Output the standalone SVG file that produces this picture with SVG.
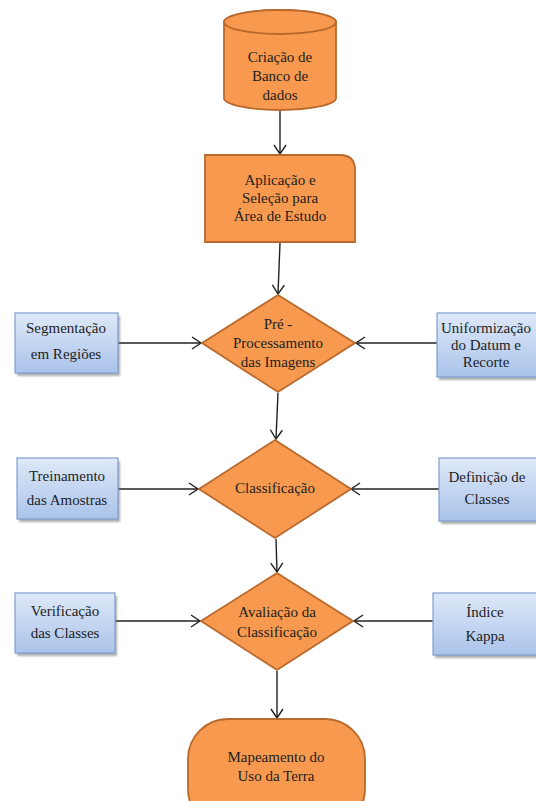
<svg xmlns="http://www.w3.org/2000/svg" width="536" height="801" viewBox="0 0 536 801" font-family="'Liberation Serif', 'Times New Roman', Times, serif">
<defs>
<style>
.o{fill:#f79a4f;stroke:#b9692c;stroke-width:1.8}
.b{fill:url(#bg);stroke:#7f9fcf;stroke-width:1.2}
.sh{fill:#6b6b6b;opacity:.55;filter:url(#bl)}
text{font-family:'Liberation Serif','Times New Roman',Times,serif;font-size:15px;fill:#1e1e1e;text-anchor:middle}
.c{stroke:#222;stroke-width:1.4;fill:none;marker-end:url(#ah)}
</style>
<linearGradient id="bg" x1="0" y1="0" x2="0" y2="1">
<stop offset="0" stop-color="#dfe9f8"/>
<stop offset="1" stop-color="#a9c3ea"/>
</linearGradient>
<filter id="bl" x="-10%" y="-10%" width="120%" height="130%"><feGaussianBlur stdDeviation="1.2"/></filter>
<marker id="ah" markerUnits="userSpaceOnUse" markerWidth="12" markerHeight="14" refX="10" refY="7" orient="auto">
<path d="M1,1 L10,7 L1,13" fill="none" stroke="#222" stroke-width="1.4"/>
</marker>
</defs>
<rect width="536" height="801" fill="#fff"/>
<g id="connectors">
<line class="c" x1="280" y1="111" x2="280" y2="154"/>
<line class="c" x1="280" y1="243" x2="278" y2="294"/>
<line class="c" x1="118" y1="343" x2="201" y2="343"/>
<line class="c" x1="437" y1="343" x2="356" y2="343"/>
<line class="c" x1="278" y1="393" x2="276" y2="439"/>
<line class="c" x1="118" y1="489" x2="198" y2="489"/>
<line class="c" x1="439" y1="489" x2="351" y2="489"/>
<line class="c" x1="276" y1="539" x2="277" y2="572"/>
<line class="c" x1="115" y1="621" x2="200" y2="621"/>
<line class="c" x1="433" y1="621" x2="354" y2="621"/>
<line class="c" x1="277" y1="671" x2="277" y2="718"/>
</g>
<g id="n-banco">
<path class="o" d="M224,22 A56,12 0 0 1 336,22 V98 A56,12 0 0 1 224,98 Z"/>
<ellipse class="o" cx="280" cy="22" rx="56" ry="12"/>
<text x="280" y="62">Criação de</text>
<text x="280" y="81">Banco de</text>
<text x="280" y="100">dados</text>
</g>
<g id="n-aplicacao">
<path class="o" d="M205,155 H340 Q355,155 355,170 V242 H205 Z"/>
<text x="280" y="185">Aplicação e</text>
<text x="280" y="203">Seleção para</text>
<text x="280" y="221">Área de Estudo</text>
</g>
<g id="n-pre">
<polygon class="o" points="278,295 355,343 278,392 202,343"/>
<text x="278" y="329">Pré -</text>
<text x="278" y="348">Processamento</text>
<text x="278" y="367">das Imagens</text>
</g>
<g id="n-segmentacao">
<rect class="sh" x="17" y="316" width="103" height="60"/>
<rect class="b" x="15" y="313" width="103" height="60"/>
<text x="66" y="333">Segmentação</text>
<text x="66" y="359">em Regiões</text>
</g>
<g id="n-uniformizacao">
<rect class="sh" x="439" y="316" width="100" height="64"/>
<rect class="b" x="437" y="313" width="102" height="64"/>
<text x="486" y="333">Uniformização</text>
<text x="486" y="350">do Datum e</text>
<text x="486" y="367">Recorte</text>
</g>
<g id="n-classificacao">
<polygon class="o" points="275,440 351,489 275,538 199,489"/>
<text x="275" y="493">Classificação</text>
</g>
<g id="n-treinamento">
<rect class="sh" x="19" y="461" width="101" height="61"/>
<rect class="b" x="17" y="458" width="101" height="61"/>
<text x="67" y="481">Treinamento</text>
<text x="67" y="505">das Amostras</text>
</g>
<g id="n-definicao">
<rect class="sh" x="441" y="461" width="98" height="63"/>
<rect class="b" x="439" y="458" width="100" height="63"/>
<text x="487" y="482">Definição de</text>
<text x="487" y="504">Classes</text>
</g>
<g id="n-avaliacao">
<polygon class="o" points="277,573 353,621 277,670 201,621"/>
<text x="277" y="617">Avaliação da</text>
<text x="277" y="637">Classificação</text>
</g>
<g id="n-verificacao">
<rect class="sh" x="17" y="596" width="100" height="60"/>
<rect class="b" x="15" y="593" width="100" height="60"/>
<text x="65" y="616">Verificação</text>
<text x="65" y="638">das Classes</text>
</g>
<g id="n-indice">
<rect class="sh" x="435" y="596" width="104" height="62"/>
<rect class="b" x="433" y="593" width="106" height="62"/>
<text x="485" y="617">Índice</text>
<text x="485" y="641">Kappa</text>
</g>
<g id="n-mapeamento">
<rect class="o" x="188" y="719" width="177" height="110" rx="40" ry="40"/>
<text x="276" y="762">Mapeamento do</text>
<text x="276" y="781">Uso da Terra</text>
</g>
</svg>
